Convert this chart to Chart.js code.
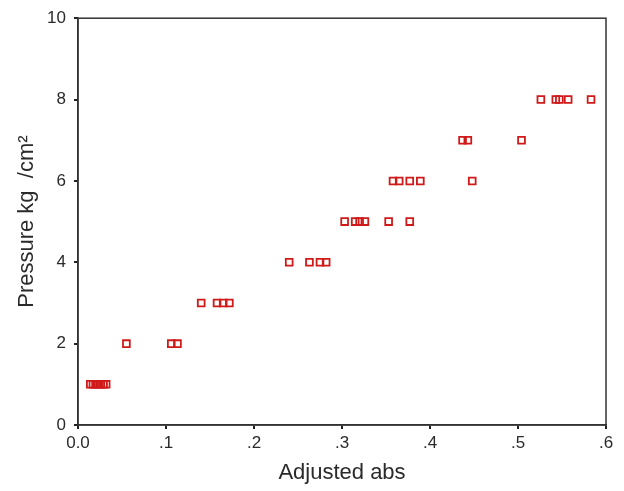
<!DOCTYPE html>
<html>
<head>
<meta charset="utf-8">
<script src="https://cdn.jsdelivr.net/npm/chart.js@4"></script>
<style>
  html, body { margin: 0; padding: 0; background: #fff; }
  #wrap { width: 624px; height: 491px; }
</style>
</head>
<body>
<div id="wrap"><canvas id="scatter" width="624" height="491"></canvas></div>
<script>
// Data: adjusted absorbance vs pressure (kg/cm2)
const absValues = [
  0.014, 0.017, 0.020, 0.023, 0.026, 0.029, 0.032,
  0.055, 0.106, 0.113,
  0.140, 0.158, 0.165, 0.172,
  0.240, 0.263, 0.275, 0.282,
  0.303, 0.315, 0.320, 0.326, 0.353, 0.377,
  0.358, 0.365, 0.377, 0.389, 0.448,
  0.437, 0.443, 0.504,
  0.526, 0.543, 0.547, 0.557, 0.583
];
const pressureValues = [
  1, 1, 1, 1, 1, 1, 1,
  2, 2, 2,
  3, 3, 3, 3,
  4, 4, 4, 4,
  5, 5, 5, 5, 5, 5,
  6, 6, 6, 6, 6,
  7, 7, 7,
  8, 8, 8, 8, 8
];
const xTickValues = [0, 0.1, 0.2, 0.3, 0.4, 0.5, 0.6];
const xTickLabels = ['0.0', '.1', '.2', '.3', '.4', '.5', '.6'];
const yTicks = [0, 2, 4, 6, 8, 10];

const points = absValues.map((x, i) => ({ x: x, y: pressureValues[i] }));

// box round the plot area
const frame = {
  id: 'frame',
  afterDraw(chart) {
    const a = chart.chartArea;
    const ctx = chart.ctx;
    ctx.save();
    ctx.strokeStyle = '#333';
    ctx.lineWidth = 1.5;
    ctx.strokeRect(a.left, a.top, a.right - a.left, a.bottom - a.top);
    ctx.restore();
  }
};

const font = "'Liberation Sans', Arial, sans-serif";

new Chart(document.getElementById('scatter'), {
  type: 'scatter',
  data: {
    datasets: [{
      data: points,
      pointStyle: 'rect',
      pointRadius: 4.8,
      pointHoverRadius: 4.8,
      pointBorderWidth: 1.8,
      pointBorderColor: '#d01a1a',
      pointBackgroundColor: 'rgba(255,255,255,0)'
    }]
  },
  options: {
    responsive: false,
    animation: false,
    layout: { padding: { top: 18, right: 18, left: 0, bottom: 0 } },
    plugins: {
      legend: { display: false },
      tooltip: { enabled: false }
    },
    scales: {
      x: {
        type: 'linear',
        min: 0,
        max: 0.6,
        afterFit: s => { s.height = 66; },
        afterBuildTicks: s => { s.ticks = xTickValues.map(v => ({ value: v })); },
        ticks: {
          callback: (v, i) => xTickLabels[i],
          color: '#2a2a2a',
          font: { family: font, size: 17 },
          padding: 4,
          maxRotation: 0
        },
        grid: { drawOnChartArea: false, drawTicks: true, tickLength: 4, color: '#222', lineWidth: 2 },
        border: { display: true, color: '#333', width: 1.5 },
        title: {
          display: true,
          text: 'Adjusted abs',
          color: '#2a2a2a',
          font: { family: font, size: 22 },
          padding: { top: 2, bottom: 5 }
        }
      },
      y: {
        type: 'linear',
        min: 0,
        max: 10,
        afterFit: s => { s.width = 78; },
        afterBuildTicks: s => { s.ticks = yTicks.map(v => ({ value: v })); },
        ticks: {
          color: '#2a2a2a',
          font: { family: font, size: 17 },
          padding: 8
        },
        grid: { drawOnChartArea: false, drawTicks: true, tickLength: 4, color: '#222', lineWidth: 2 },
        border: { display: true, color: '#333', width: 1.5 },
        title: {
          display: true,
          text: 'Pressure kg  /cm\u00b2',
          color: '#2a2a2a',
          font: { family: font, size: 22 },
          padding: { top: 14, bottom: 0 }
        }
      }
    }
  },
  plugins: [frame]
});
</script>
</body>
</html>
